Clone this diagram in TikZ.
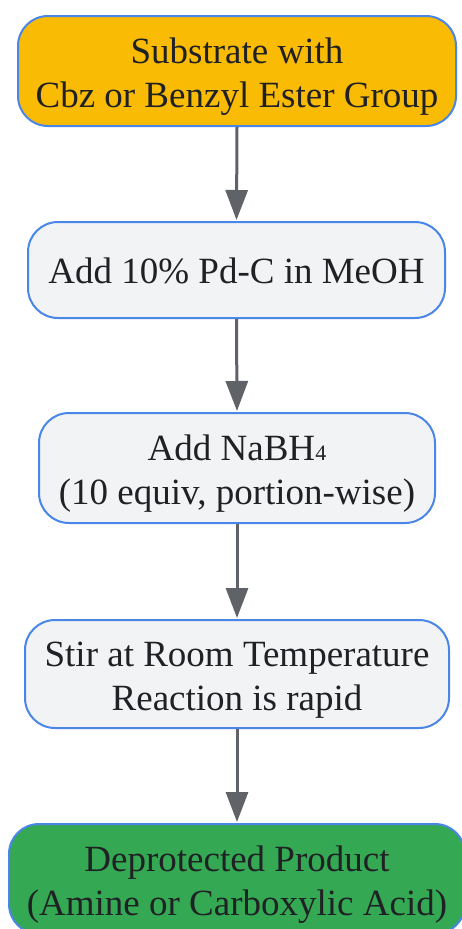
\documentclass[tikz,border=0pt]{standalone}
\usepackage{fontspec}
\setmainfont{Liberation Serif}
\usetikzlibrary{arrows.meta}
\definecolor{gyellow}{HTML}{FABB05}
\definecolor{gblue}{HTML}{4A86E8}
\definecolor{ggray}{HTML}{F1F3F4}
\definecolor{ggreen}{HTML}{34A853}
\definecolor{gtext}{HTML}{202124}
\definecolor{garrow}{HTML}{5F6368}
\newcommand\mytopstrut{\rule{0pt}{36pt}}
\tikzset{
  box/.style={draw=gblue, line width=2pt, rounded corners=30pt, align=center,
    text=gtext, inner sep=0pt, font=\fontsize{37}{44}\selectfont},
  flow/.style={draw=garrow, line width=3pt, -{Triangle[length=30pt,width=22pt]}, shorten >=1pt}
}
\begin{document}
\begin{tikzpicture}[x=1pt,y=-1pt]
\useasboundingbox (0,0) rectangle (462,929);
\clip (0,0) rectangle (462,929);
\fill[white] (0,0) rectangle (462,929);
\node[box, fill=gyellow, minimum width=438pt, minimum height=110pt] (n1) at (237,71) {\mytopstrut Substrate with\\Cbz or Benzyl Ester Group};
\node[box, fill=ggray, minimum width=417pt, minimum height=96pt] (n2) at (236.5,270) {\rule{0pt}{28pt}Add 10\% Pd-C in MeOH};
\node[box, fill=ggray, minimum width=396pt, minimum height=110pt] (n3) at (237,468) {\mytopstrut Add NaBH{\fontsize{22}{22}\selectfont 4}\\(10 equiv, portion-wise)};
\node[box, fill=ggray, minimum width=424pt, minimum height=108pt] (n4) at (237,674) {\mytopstrut Stir at Room Temperature\\Reaction is rapid};
\node[box, fill=ggreen, minimum width=456pt, minimum height=110pt] (n5) at (237,879) {\mytopstrut Deprotected Product\\(Amine or Carboxylic Acid)};
\draw[flow] (n1.south) -- (n2.north);
\draw[flow] (n2.south) -- (n3.north);
\draw[flow] (n3.south) -- (n4.north);
\draw[flow] (n4.south) -- (n5.north);
\end{tikzpicture}
\end{document}
